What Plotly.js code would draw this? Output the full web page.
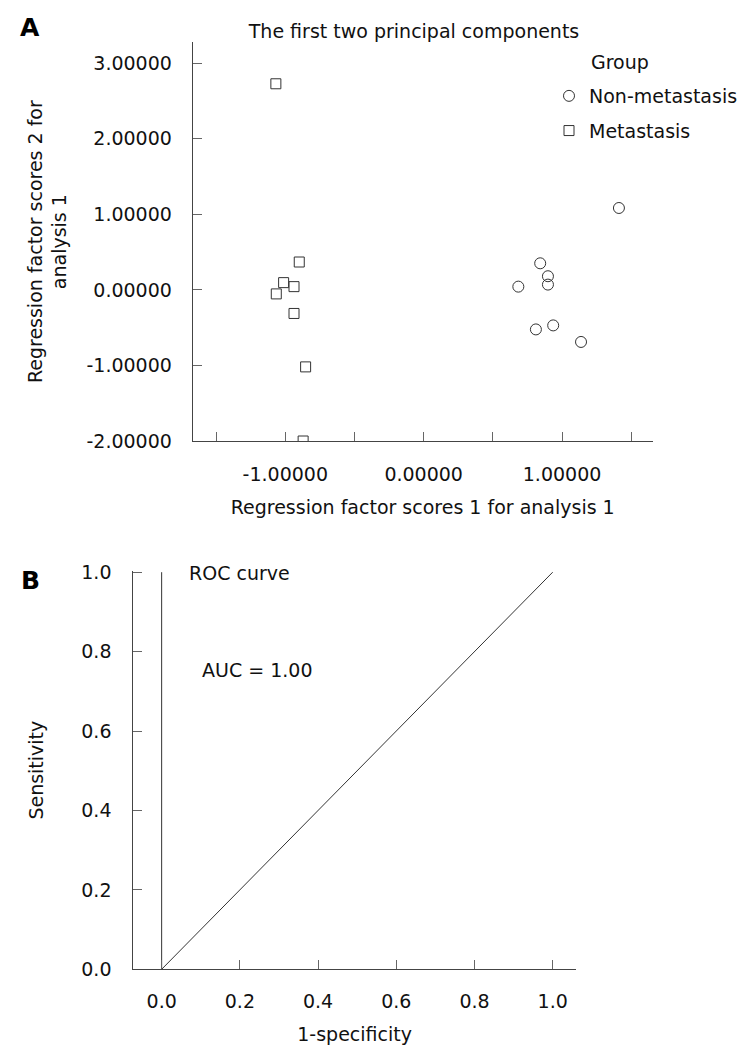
<!DOCTYPE html>
<html>
<head>
<meta charset="utf-8">
<script src="https://cdn.plot.ly/plotly-3.0.1.min.js"></script>
<style>html,body{margin:0;padding:0;background:#fff;}#chart{width:752px;height:1063px;}</style>
</head>
<body>
<div id="chart"></div>
<script>
// Panel A: first two principal components
const nonMetX = [1.411, 0.842, 0.898, 0.898, 0.684, 0.936, 0.811, 1.137];
const nonMetY = [1.084, 0.352, 0.181, 0.070, 0.043, -0.470, -0.523, -0.689];
const metX = [-1.068, -0.899, -1.012, -0.937, -1.065, -0.937, -0.853, -0.871];
const metY = [2.728, 0.369, 0.096, 0.043, -0.053, -0.312, -1.019, -2.0];
const groupNames = ["Non-metastasis", "Metastasis"];
const pcaXTickVals = [-1.5, -1.0, -0.5, 0.0, 0.5, 1.0, 1.5];
const pcaXTickText = ["", "-1.00000", "", "0.00000", "", "1.00000", ""];
const pcaYTickVals = [-2, -1, 0, 1, 2, 3];
const pcaYTickText = ["-2.00000", "-1.00000", "0.00000", "1.00000", "2.00000", "3.00000"];

// Panel B: ROC curve
const rocX = [0, 0];
const rocY = [0, 1];
const refX = [0, 1];
const refY = [0, 1];
const rocTickVals = [0, 0.2, 0.4, 0.6, 0.8, 1.0];
const rocTickText = ["0.0", "0.2", "0.4", "0.6", "0.8", "1.0"];

const FONT = "DejaVu Sans, Verdana, sans-serif";
const W = 752, H = 1063;
const px = v => v / W;
const py = v => 1 - v / H;

const traces = [
  {x: nonMetX, y: nonMetY, type: "scatter", mode: "markers", name: groupNames[0],
   legendgroup: "g1", xaxis: "x", yaxis: "y",
   marker: {symbol: "circle-open", size: 11, color: "#333", line: {width: 1, color: "#333"}}},
  {x: metX, y: metY, type: "scatter", mode: "markers", name: groupNames[1],
   legendgroup: "g2", xaxis: "x", yaxis: "y",
   marker: {symbol: "square-open", size: 10, color: "#333", line: {width: 1, color: "#333"}}},
  {x: rocX, y: rocY, type: "scatter", mode: "lines", showlegend: false,
   xaxis: "x2", yaxis: "y2", line: {color: "#333", width: 1}},
  {x: refX, y: refY, type: "scatter", mode: "lines", showlegend: false,
   xaxis: "x2", yaxis: "y2", line: {color: "#333", width: 1}}
];

const axisCommon = {
  showline: true, linecolor: "#444", linewidth: 1, showgrid: false, zeroline: false,
  ticks: "inside", ticklen: 9, tickwidth: 1, tickcolor: "#666",
  tickfont: {family: FONT, size: 19, color: "#111"}, tickmode: "array", fixedrange: true
};

const layout = {
  width: W, height: H,
  margin: {l: 0, r: 0, t: 0, b: 0},
  paper_bgcolor: "#fff", plot_bgcolor: "#fff",
  font: {family: FONT, size: 19, color: "#111"},
  title: {text: "The first two principal components", x: px(414), y: py(31), xanchor: "center", yanchor: "middle",
          font: {family: FONT, size: 19, color: "#111"}},
  showlegend: true,
  legend: {x: px(549), xanchor: "left", y: py(77), yanchor: "top", bgcolor: "rgba(0,0,0,0)",
           font: {family: FONT, size: 19, color: "#111"}, tracegroupgap: 7, traceorder: "grouped"},
  xaxis: Object.assign({}, axisCommon, {
    domain: [px(192.7), px(652.7)], range: [-1.669, 1.655], anchor: "y",
    tickvals: pcaXTickVals, ticktext: pcaXTickText, ticklabelstandoff: 16,
    title: {text: "Regression factor scores 1 for analysis 1", font: {family: FONT, size: 19, color: "#111"}, standoff: 16}
  }),
  yaxis: Object.assign({}, axisCommon, {
    domain: [py(441), py(42.3)], range: [-2.0, 3.277], anchor: "x",
    tickvals: pcaYTickVals, ticktext: pcaYTickText, ticklabelstandoff: 16,
    title: {text: "Regression factor scores 2 for<br>analysis 1", font: {family: FONT, size: 19, color: "#111"}, standoff: 14}
  }),
  xaxis2: Object.assign({}, axisCommon, {
    domain: [px(133.3), px(576)], range: [-0.0725, 1.0596], anchor: "y2",
    tickvals: rocTickVals, ticktext: rocTickText, ticklabelstandoff: 15,
    title: {text: "1-specificity", font: {family: FONT, size: 19, color: "#111"}, standoff: 16}
  }),
  yaxis2: Object.assign({}, axisCommon, {
    domain: [py(969.3), py(571)], range: [0, 1.003], anchor: "x2",
    tickvals: rocTickVals, ticktext: rocTickText, ticklabelstandoff: 17,
    title: {text: "Sensitivity", font: {family: FONT, size: 19, color: "#111"}, standoff: 32}
  }),
  annotations: [
    {text: "<b>A</b>", xref: "paper", yref: "paper", x: px(30), y: py(27), xanchor: "center", yanchor: "middle",
     showarrow: false, font: {family: "DejaVu Sans, sans-serif", size: 25, color: "#000"}},
    {text: "<b>B</b>", xref: "paper", yref: "paper", x: px(30.6), y: py(580), xanchor: "center", yanchor: "middle",
     showarrow: false, font: {family: "DejaVu Sans, sans-serif", size: 25, color: "#000"}},
    {text: "Group", xref: "paper", yref: "paper", x: px(589), y: py(62), xanchor: "left", yanchor: "middle",
     showarrow: false, font: {family: FONT, size: 19, color: "#111"}},
    {text: "ROC curve", xref: "x2", yref: "y2", x: 0.065, y: 0.998, xanchor: "left", yanchor: "middle",
     showarrow: false, font: {family: FONT, size: 19, color: "#111"}},
    {text: "AUC = 1.00", xref: "x2", yref: "y2", x: 0.098, y: 0.753, xanchor: "left", yanchor: "middle",
     showarrow: false, font: {family: FONT, size: 19, color: "#111"}}
  ]
};

Plotly.newPlot("chart", traces, layout, {displayModeBar: false, staticPlot: true});
</script>
</body>
</html>
